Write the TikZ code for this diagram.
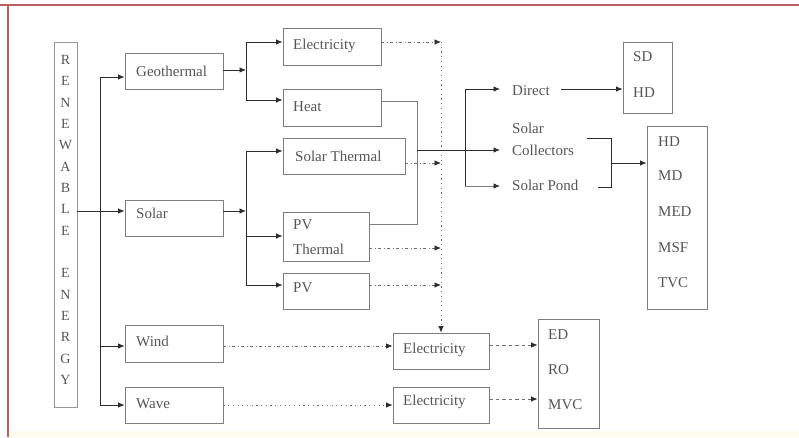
\documentclass[tikz,border=0pt]{standalone}
\usepackage{fontspec}
\setmainfont{Liberation Serif}
\usetikzlibrary{arrows.meta}
\definecolor{boxgray}{RGB}{125,125,125}
\definecolor{linegray}{RGB}{45,45,45}
\definecolor{dotgray}{RGB}{110,110,110}
\definecolor{txtgray}{RGB}{85,85,85}
\definecolor{framered}{RGB}{185,95,95}
\definecolor{bandyellow}{RGB}{255,252,238}
\begin{document}
\begin{tikzpicture}[x=1pt,y=-1pt,
  box/.style={draw=boxgray, line width=0.8pt, inner sep=0pt, rectangle},
  txt/.style={text=txtgray, font=\fontsize{15}{18}\selectfont, inner sep=0pt, anchor=west},
  ltr/.style={text=txtgray, font=\fontsize{14}{16}\selectfont, inner sep=0pt},
  conn/.style={draw=linegray, line width=0.8pt},
  tip/.style={-{Latex[length=6.5pt,width=5.5pt,color=linegray]}},
  arr/.style={conn, tip},
  ddot/.style={draw=dotgray, line width=0.8pt, tip, dash pattern=on 3pt off 2.5pt on 1pt off 2.5pt},
  dots/.style={draw=dotgray, line width=0.8pt, tip, dash pattern=on 1.2pt off 3.5pt},
  dsh/.style={draw=dotgray, line width=0.8pt, tip, dash pattern=on 3.5pt off 3pt}]
\useasboundingbox (0,0) rectangle (799,437);
% frame
\fill[bandyellow] (9,431) rectangle (799,437);
\draw[framered, line width=1.2pt] (0,5) -- (799,5);
\draw[framered, line width=1.2pt] (8,5) -- (8,437);

% RENEWABLE ENERGY column
\node[box, draw=boxgray!80, minimum width=23pt, minimum height=365pt] (re) at (65.5,224.5) {};
\foreach \l [count=\i from 0] in {R,E,N,E,W,A,B,L,E,{},E,N,E,R,G,Y}
  \node[ltr] (re\i) at (65.5,60+\i*21.33) {\l};

% first level boxes
\node[box, minimum width=98pt, minimum height=36pt] (geo) at (174,71) {};
\node[txt] (geot) at (136,71) {Geothermal};
\node[box, minimum width=98pt, minimum height=36pt] (solar) at (174,218) {};
\node[txt] (solart) at (136,213) {Solar};
\node[box, minimum width=98pt, minimum height=37pt] (wind) at (174,343.5) {};
\node[txt] (windt) at (136,341) {Wind};
\node[box, minimum width=98pt, minimum height=36pt] (wave) at (174,405) {};
\node[txt] (wavet) at (136,404) {Wave};

% second level boxes
\node[box, minimum width=98pt, minimum height=37pt] (elec) at (332,46.5) {};
\node[txt] (elect) at (293,46) {Electricity};
\node[box, minimum width=98pt, minimum height=37pt] (heat) at (332,107.5) {};
\node[txt] (heatt) at (293,107) {Heat};
\node[box, minimum width=122pt, minimum height=36pt] (st) at (344,156) {};
\node[txt] (stt) at (295,156) {Solar Thermal};
\node[box, minimum width=86pt, minimum height=49pt] (pvt) at (326,236.5) {};
\node[txt] (pvtt1) at (293,225) {PV};
\node[txt] (pvtt2) at (293,249) {Thermal};
\node[box, minimum width=86pt, minimum height=36pt] (pv) at (326,291) {};
\node[txt] (pvt1) at (293,288) {PV};

% electricity from wind / wave
\node[box, minimum width=96pt, minimum height=36pt] (elecw) at (441,351) {};
\node[txt] (elecwt) at (403,350) {Electricity};
\node[box, minimum width=96pt, minimum height=36pt] (elecv) at (441,405) {};
\node[txt] (elecvt) at (403,402) {Electricity};

% result boxes
\node[box, minimum width=61pt, minimum height=109pt] (ed) at (568.5,373.5) {};
\node[txt] (edt1) at (548,335) {ED};
\node[txt] (edt2) at (548,370) {RO};
\node[txt] (edt3) at (548,405) {MVC};
\node[box, minimum width=49pt, minimum height=71pt] (sdhd) at (647.5,77.5) {};
\node[txt] (sdt1) at (633,57) {SD};
\node[txt] (sdt2) at (633,93) {HD};
\node[box, minimum width=60pt, minimum height=183pt] (big) at (677,217.5) {};
\node[txt] (bg1) at (658,142) {HD};
\node[txt] (bg2) at (658,176) {MD};
\node[txt] (bg3) at (658,212) {MED};
\node[txt] (bg4) at (658,248) {MSF};
\node[txt] (bg5) at (658,283) {TVC};

% solar routes
\node[txt] (direct) at (512,91) {Direct};
\node[txt] (solc1) at (512,128) {Solar};
\node[txt] (coll) at (512,150) {Collectors};
\node[txt] (pond) at (512,185) {Solar Pond};

% coordinates
\coordinate (tt) at (100,77);
\coordinate (tw) at (100,346);
\coordinate (tb) at (100,405);
\coordinate (rs) at (77,211);
\coordinate (j1) at (246,70);
\coordinate (j1t) at (246,42);
\coordinate (j1b) at (246,100);
\coordinate (j2) at (246,211);
\coordinate (j2t) at (246,151);
\coordinate (j2m) at (246,236);
\coordinate (j2b) at (246,285);
\coordinate (dv) at (441,42);
\coordinate (d2) at (441,163);
\coordinate (d3) at (441,248);
\coordinate (d4) at (441,285);
\coordinate (hc1) at (417,101);
\coordinate (hc2) at (417,224);
\coordinate (hm) at (417,150);
\coordinate (bj1) at (465,89);
\coordinate (bj2) at (465,186);
\coordinate (br1) at (587,138);
\coordinate (br2) at (611,138);
\coordinate (br3) at (611,187);
\coordinate (br4) at (598,187);
\coordinate (brm) at (611,163);
\coordinate (ew) at (489,345);
\coordinate (ev) at (489,399);

% trunk
\draw[conn] (tt) -- (tb);
\draw[arr] (re.east |- rs) -- (solar.west |- rs);
\draw[arr] (tt) -- (geo.west |- tt);
\draw[arr] (tw) -- (wind.west |- tw);
\draw[arr] (tb) -- (wave.west |- tb);

% geothermal branch
\draw[arr] (geo.east |- j1) -- (j1);
\draw[conn] (j1t) -- (j1b);
\draw[arr] (j1t) -- (elec.west |- j1t);
\draw[arr] (j1b) -- (heat.west |- j1b);

% solar branch
\draw[arr] (solar.east |- j2) -- (j2);
\draw[conn] (j2t) -- (j2b);
\draw[arr] (j2t) -- (st.west |- j2t);
\draw[arr] (j2m) -- (pvt.west |- j2m);
\draw[arr] (j2b) -- (pv.west |- j2b);

% dotted collector to electricity
\draw[dots] (dv) -- (elecw.north);
\draw[ddot] (elec.east |- dv) -- (dv);
\draw[ddot] (st.east |- d2) -- (d2);
\draw[ddot] (pvt.east |- d3) -- (d3);
\draw[ddot] (pv.east |- d4) -- (d4);

% heat collection
\draw[draw=boxgray, line width=0.8pt] (heat.east |- hc1) -- (hc1) -- (hc2) -- (pvt.east |- hc2);
\draw[arr] (hm) -- ([xshift=-12pt]coll.west);
\draw[conn] (bj1) -- (bj2);
\draw[arr] (bj1) -- ([xshift=-12pt]direct.west |- bj1);
\draw[draw=boxgray, line width=0.8pt, tip] (bj2) -- ([xshift=-12pt]pond.west |- bj2);
\draw[arr] ([xshift=11pt]direct.east |- bj1) -- (sdhd.west |- bj1);
\draw[conn] (br1) -- (br2) -- (br3) -- (br4);
\draw[arr] (brm) -- (big.west |- brm);

% wind / wave
\draw[ddot] (wind.east |- tw) -- (elecw.west |- tw);
\draw[dots] (wave.east |- tb) -- (elecv.west |- tb);
\draw[dsh] (ew) -- (ed.west |- ew);
\draw[dsh] (ev) -- (ed.west |- ev);
\end{tikzpicture}
\end{document}
